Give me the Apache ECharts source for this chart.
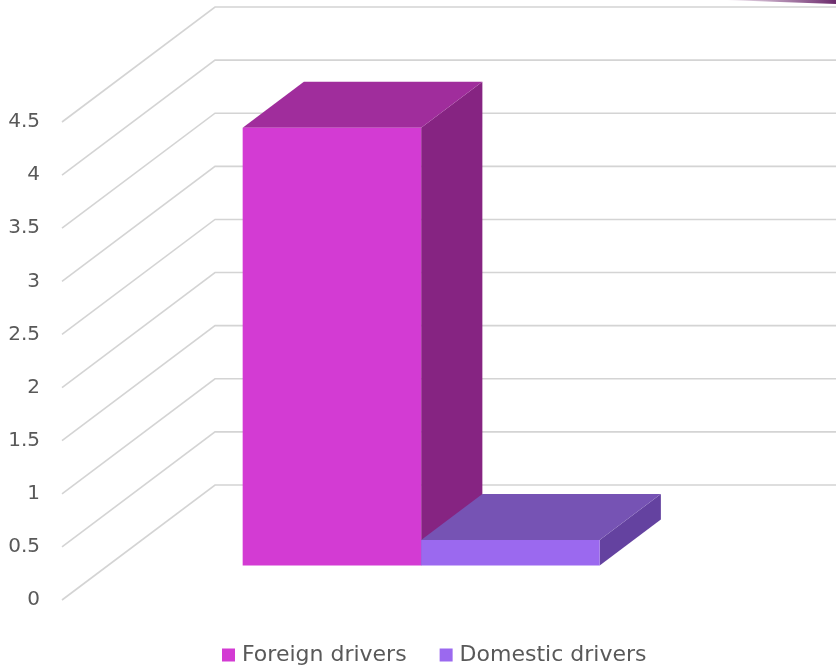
<!DOCTYPE html>
<html>
<head>
<meta charset="utf-8">
<script src="https://cdn.jsdelivr.net/npm/echarts@6/dist/echarts.min.js"></script>
<style>
html,body{margin:0;padding:0;background:#fff;}
#chart{width:836px;height:668px;}
</style>
</head>
<body>
<div id="chart"></div>
<script>
// ---- data ----
const categories = ['Foreign drivers', 'Domestic drivers'];
const values = [4.12, 0.24];
const yTicks = [0, 0.5, 1, 1.5, 2, 2.5, 3, 3.5, 4, 4.5];
const yMin = 0, yMax = 4.5, yInterval = 0.5;

// ---- style ----
const frontColors = ['#D33BD3', '#9B69EF'];
const topColors = ['#A02D9C', '#7653B4'];
const sideColors = ['#862482', '#6442A0'];
const DX = 153, DY = -115;         // full floor depth offset
const D0 = 0.3, D1 = 0.7;          // bar depth span
const FONT = 'DejaVu Sans';
const TEXT = '#595959';

const chart = echarts.init(document.getElementById('chart'));

function barItem(i) {
  return function (params, api) {
    const x = api.value(0), v = api.value(1);
    const w = api.size([1, 0])[0];
    const bl = api.coord([x, 0]);
    const tl = api.coord([x, v]);
    const xl = bl[0] - w / 2, xr = bl[0] + w / 2;
    const f = [D0 * DX, D0 * DY], b = [D1 * DX, D1 * DY];
    const yb = bl[1], yt = tl[1];
    const front = [[xl + f[0], yb + f[1]], [xr + f[0], yb + f[1]], [xr + f[0], yt + f[1]], [xl + f[0], yt + f[1]]];
    const top = [[xl + f[0], yt + f[1]], [xr + f[0], yt + f[1]], [xr + b[0], yt + b[1]], [xl + b[0], yt + b[1]]];
    const side = [[xr + f[0], yb + f[1]], [xr + b[0], yb + b[1]], [xr + b[0], yt + b[1]], [xr + f[0], yt + f[1]]];
    return {
      type: 'group',
      children: [
        { type: 'polygon', shape: { points: side }, style: { fill: sideColors[i] } },
        { type: 'polygon', shape: { points: top }, style: { fill: topColors[i] } },
        { type: 'polygon', shape: { points: front }, style: { fill: frontColors[i] } }
      ]
    };
  };
}

const series = [{
  type: 'custom',
  name: '_grid',
  silent: true,
  z: 1,
  data: yTicks.map(v => [-1.255, v]),
  encode: { x: 0, y: 1 },
  renderItem: function (params, api) {
    const p0 = api.coord([api.value(0), api.value(1)]);
    const p1 = [p0[0] + DX, p0[1] + DY];
    const p2 = [836, p1[1]];
    return {
      type: 'polyline',
      shape: { points: [p0, p1, p2] },
      style: { stroke: '#D4D4D4', lineWidth: 1.6, fill: null }
    };
  }
}];
categories.forEach((name, i) => {
  series.push({
    type: 'custom',
    name: name,
    z: 2 + i,
    itemStyle: { color: frontColors[i] },
    data: [[i, values[i]]],
    encode: { x: 0, y: 1 },
    renderItem: barItem(i)
  });
});

chart.setOption({
  animation: false,
  backgroundColor: '#fff',
  textStyle: { fontFamily: FONT },
  grid: { left: 62, right: 153, top: 122, bottom: 68, containLabel: false },
  xAxis: { type: 'value', min: -1.255, max: 2.224, show: false },
  yAxis: {
    type: 'value', min: yMin, max: yMax, interval: yInterval,
    axisLine: { show: false }, axisTick: { show: false }, splitLine: { show: false },
    axisLabel: { color: TEXT, fontSize: 20, fontFamily: FONT, margin: 22 }
  },
  legend: {
    data: categories,
    left: 222, top: 644, padding: 0,
    icon: 'rect', itemWidth: 13, itemHeight: 13, itemGap: 33,
    textStyle: { color: TEXT, fontSize: 22, fontFamily: FONT, padding: [0, 0, 0, 2] }
  },
  graphic: [{
    type: 'polygon',
    silent: true,
    shape: { points: [[727, 0], [836, 0], [836, 4], [780, 2]] },
    style: {
      fill: new echarts.graphic.LinearGradient(0, 0, 1, 0, [
        { offset: 0, color: 'rgba(120,50,120,0.1)' },
        { offset: 1, color: '#6B2A6B' }
      ])
    }
  }],
  series: series
});
</script>
</body>
</html>
